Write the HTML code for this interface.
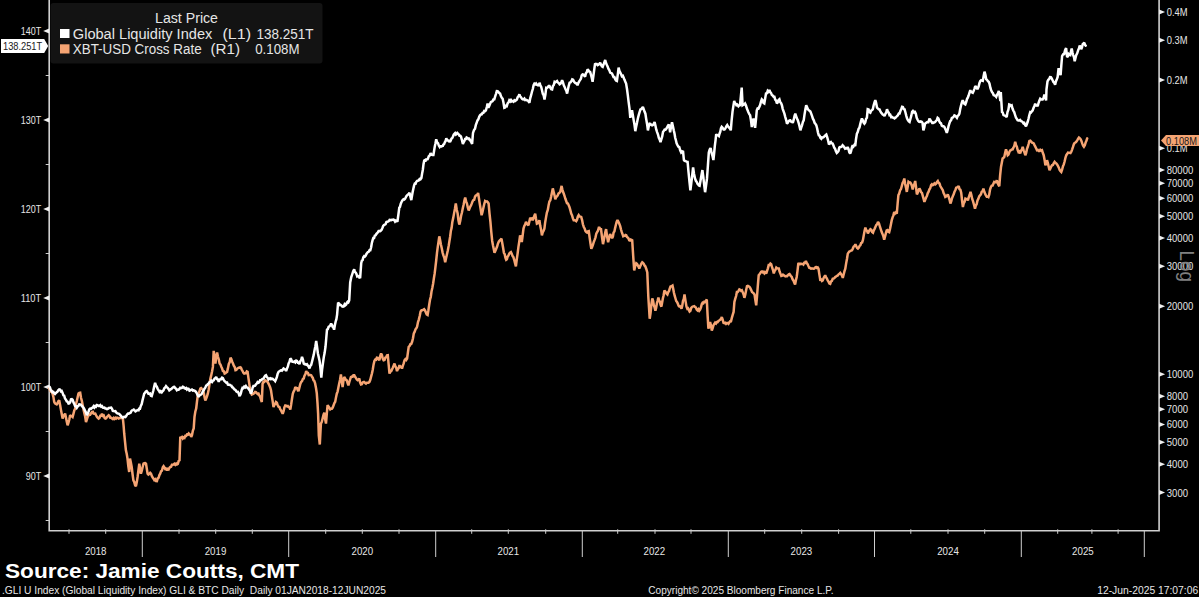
<!DOCTYPE html>
<html><head><meta charset="utf-8"><title>GLI vs BTC</title>
<style>html,body{margin:0;padding:0;background:#000;overflow:hidden}svg{display:block}text{font-family:"Liberation Sans", sans-serif}</style>
</head><body>
<svg width="1199" height="597" viewBox="0 0 1199 597">
<rect x="0" y="0" width="1199" height="597" fill="#000"/>
<rect x="50.5" y="3" width="272" height="60.5" rx="3" fill="#131313"/>
<path d="M49.2,0 L49.2,530.8 L1159.1,530.8 L1159.1,0" fill="none" stroke="#d0d0d0" stroke-width="1.6"/>
<path d="M49.2,28.5 L43.2,31.0 L49.2,33.5Z" fill="#f0f0f0"/>
<text x="20.7" y="35.0" font-size="11" fill="#e6e6e6" textLength="20.5" lengthAdjust="spacingAndGlyphs">140T</text>
<path d="M49.2,117.5 L43.2,120.0 L49.2,122.5Z" fill="#f0f0f0"/>
<text x="20.7" y="124.0" font-size="11" fill="#e6e6e6" textLength="20.5" lengthAdjust="spacingAndGlyphs">130T</text>
<path d="M49.2,206.5 L43.2,209.0 L49.2,211.5Z" fill="#f0f0f0"/>
<text x="20.7" y="213.0" font-size="11" fill="#e6e6e6" textLength="20.5" lengthAdjust="spacingAndGlyphs">120T</text>
<path d="M49.2,295.5 L43.2,298.0 L49.2,300.5Z" fill="#f0f0f0"/>
<text x="20.7" y="302.0" font-size="11" fill="#e6e6e6" textLength="20.5" lengthAdjust="spacingAndGlyphs">110T</text>
<path d="M49.2,384.5 L43.2,387.0 L49.2,389.5Z" fill="#f0f0f0"/>
<text x="20.7" y="391.0" font-size="11" fill="#e6e6e6" textLength="20.5" lengthAdjust="spacingAndGlyphs">100T</text>
<path d="M49.2,473.5 L43.2,476.0 L49.2,478.5Z" fill="#f0f0f0"/>
<text x="25.7" y="480.0" font-size="11" fill="#e6e6e6" textLength="15.5" lengthAdjust="spacingAndGlyphs">90T</text>
<line x1="45.7" y1="75.5" x2="49.2" y2="75.5" stroke="#d0d0d0" stroke-width="1"/>
<line x1="45.7" y1="164.5" x2="49.2" y2="164.5" stroke="#d0d0d0" stroke-width="1"/>
<line x1="45.7" y1="253.5" x2="49.2" y2="253.5" stroke="#d0d0d0" stroke-width="1"/>
<line x1="45.7" y1="342.5" x2="49.2" y2="342.5" stroke="#d0d0d0" stroke-width="1"/>
<line x1="45.7" y1="431.5" x2="49.2" y2="431.5" stroke="#d0d0d0" stroke-width="1"/>
<line x1="45.7" y1="520.5" x2="49.2" y2="520.5" stroke="#d0d0d0" stroke-width="1"/>
<path d="M1159.1,9.5 L1165.1,12.0 L1159.1,14.5Z" fill="#f0f0f0"/>
<text x="1166.8" y="16.0" font-size="11" fill="#e6e6e6" textLength="20.8" lengthAdjust="spacingAndGlyphs">0.4M</text>
<path d="M1159.1,37.75037951476488 L1165.1,40.25037951476488 L1159.1,42.75037951476488Z" fill="#f0f0f0"/>
<text x="1166.8" y="44.3" font-size="11" fill="#e6e6e6" textLength="20.8" lengthAdjust="spacingAndGlyphs">0.3M</text>
<path d="M1159.1,77.56705313098662 L1165.1,80.06705313098662 L1159.1,82.56705313098662Z" fill="#f0f0f0"/>
<text x="1166.8" y="84.1" font-size="11" fill="#e6e6e6" textLength="20.8" lengthAdjust="spacingAndGlyphs">0.2M</text>
<path d="M1159.1,145.63410626197324 L1165.1,148.13410626197324 L1159.1,150.63410626197324Z" fill="#f0f0f0"/>
<text x="1166.8" y="152.1" font-size="11" fill="#e6e6e6" textLength="20.8" lengthAdjust="spacingAndGlyphs">0.1M</text>
<path d="M1159.1,167.54680300102865 L1165.1,170.04680300102865 L1159.1,172.54680300102865Z" fill="#f0f0f0"/>
<text x="1166.8" y="174.0" font-size="11" fill="#e6e6e6" textLength="26.4" lengthAdjust="spacingAndGlyphs">80000</text>
<path d="M1159.1,180.6595857567568 L1165.1,183.1595857567568 L1159.1,185.6595857567568Z" fill="#f0f0f0"/>
<text x="1166.8" y="187.2" font-size="11" fill="#e6e6e6" textLength="26.4" lengthAdjust="spacingAndGlyphs">70000</text>
<path d="M1159.1,195.79718251579354 L1165.1,198.29718251579354 L1159.1,200.79718251579354Z" fill="#f0f0f0"/>
<text x="1166.8" y="202.3" font-size="11" fill="#e6e6e6" textLength="26.4" lengthAdjust="spacingAndGlyphs">60000</text>
<path d="M1159.1,213.70115939295988 L1165.1,216.20115939295988 L1159.1,218.70115939295988Z" fill="#f0f0f0"/>
<text x="1166.8" y="220.2" font-size="11" fill="#e6e6e6" textLength="26.4" lengthAdjust="spacingAndGlyphs">50000</text>
<path d="M1159.1,235.61385613201531 L1165.1,238.11385613201531 L1159.1,240.61385613201531Z" fill="#f0f0f0"/>
<text x="1166.8" y="242.1" font-size="11" fill="#e6e6e6" textLength="26.4" lengthAdjust="spacingAndGlyphs">40000</text>
<path d="M1159.1,263.86423564678023 L1165.1,266.36423564678023 L1159.1,268.86423564678023Z" fill="#f0f0f0"/>
<text x="1166.8" y="270.4" font-size="11" fill="#e6e6e6" textLength="26.4" lengthAdjust="spacingAndGlyphs">30000</text>
<path d="M1159.1,303.6809092630019 L1165.1,306.1809092630019 L1159.1,308.6809092630019Z" fill="#f0f0f0"/>
<text x="1166.8" y="310.2" font-size="11" fill="#e6e6e6" textLength="26.4" lengthAdjust="spacingAndGlyphs">20000</text>
<path d="M1159.1,371.74796239398853 L1165.1,374.24796239398853 L1159.1,376.74796239398853Z" fill="#f0f0f0"/>
<text x="1166.8" y="378.2" font-size="11" fill="#e6e6e6" textLength="26.4" lengthAdjust="spacingAndGlyphs">10000</text>
<path d="M1159.1,393.66065913304396 L1165.1,396.16065913304396 L1159.1,398.66065913304396Z" fill="#f0f0f0"/>
<text x="1166.8" y="400.2" font-size="11" fill="#e6e6e6" textLength="21.2" lengthAdjust="spacingAndGlyphs">8000</text>
<path d="M1159.1,406.77344188877214 L1165.1,409.27344188877214 L1159.1,411.77344188877214Z" fill="#f0f0f0"/>
<text x="1166.8" y="413.3" font-size="11" fill="#e6e6e6" textLength="21.2" lengthAdjust="spacingAndGlyphs">7000</text>
<path d="M1159.1,421.9110386478089 L1165.1,424.4110386478089 L1159.1,426.9110386478089Z" fill="#f0f0f0"/>
<text x="1166.8" y="428.4" font-size="11" fill="#e6e6e6" textLength="21.2" lengthAdjust="spacingAndGlyphs">6000</text>
<path d="M1159.1,439.81501552497514 L1165.1,442.31501552497514 L1159.1,444.81501552497514Z" fill="#f0f0f0"/>
<text x="1166.8" y="446.3" font-size="11" fill="#e6e6e6" textLength="21.2" lengthAdjust="spacingAndGlyphs">5000</text>
<path d="M1159.1,461.72771226403063 L1165.1,464.22771226403063 L1159.1,466.72771226403063Z" fill="#f0f0f0"/>
<text x="1166.8" y="468.2" font-size="11" fill="#e6e6e6" textLength="21.2" lengthAdjust="spacingAndGlyphs">4000</text>
<path d="M1159.1,489.9780917787955 L1165.1,492.4780917787955 L1159.1,494.9780917787955Z" fill="#f0f0f0"/>
<text x="1166.8" y="496.5" font-size="11" fill="#e6e6e6" textLength="21.2" lengthAdjust="spacingAndGlyphs">3000</text>
<line x1="142.3" y1="530.8" x2="142.3" y2="557" stroke="#cfcfcf" stroke-width="1"/>
<line x1="288.7" y1="530.8" x2="288.7" y2="557" stroke="#cfcfcf" stroke-width="1"/>
<line x1="435.7" y1="530.8" x2="435.7" y2="557" stroke="#cfcfcf" stroke-width="1"/>
<line x1="582.3" y1="530.8" x2="582.3" y2="557" stroke="#cfcfcf" stroke-width="1"/>
<line x1="728.3" y1="530.8" x2="728.3" y2="557" stroke="#cfcfcf" stroke-width="1"/>
<line x1="874.5" y1="530.8" x2="874.5" y2="557" stroke="#cfcfcf" stroke-width="1"/>
<line x1="1021.3" y1="530.8" x2="1021.3" y2="557" stroke="#cfcfcf" stroke-width="1"/>
<line x1="1144.3" y1="530.8" x2="1144.3" y2="557" stroke="#cfcfcf" stroke-width="1"/>
<line x1="69" y1="529.3" x2="69" y2="533.8" stroke="#cfcfcf" stroke-width="1"/>
<line x1="105.7" y1="529.3" x2="105.7" y2="533.8" stroke="#cfcfcf" stroke-width="1"/>
<line x1="179" y1="529.3" x2="179" y2="533.8" stroke="#cfcfcf" stroke-width="1"/>
<line x1="215.7" y1="529.3" x2="215.7" y2="533.8" stroke="#cfcfcf" stroke-width="1"/>
<line x1="252.3" y1="529.3" x2="252.3" y2="533.8" stroke="#cfcfcf" stroke-width="1"/>
<line x1="325.7" y1="529.3" x2="325.7" y2="533.8" stroke="#cfcfcf" stroke-width="1"/>
<line x1="362.3" y1="529.3" x2="362.3" y2="533.8" stroke="#cfcfcf" stroke-width="1"/>
<line x1="399" y1="529.3" x2="399" y2="533.8" stroke="#cfcfcf" stroke-width="1"/>
<line x1="471.7" y1="529.3" x2="471.7" y2="533.8" stroke="#cfcfcf" stroke-width="1"/>
<line x1="508.3" y1="529.3" x2="508.3" y2="533.8" stroke="#cfcfcf" stroke-width="1"/>
<line x1="545.7" y1="529.3" x2="545.7" y2="533.8" stroke="#cfcfcf" stroke-width="1"/>
<line x1="617.7" y1="529.3" x2="617.7" y2="533.8" stroke="#cfcfcf" stroke-width="1"/>
<line x1="655" y1="529.3" x2="655" y2="533.8" stroke="#cfcfcf" stroke-width="1"/>
<line x1="691" y1="529.3" x2="691" y2="533.8" stroke="#cfcfcf" stroke-width="1"/>
<line x1="764.7" y1="529.3" x2="764.7" y2="533.8" stroke="#cfcfcf" stroke-width="1"/>
<line x1="801.7" y1="529.3" x2="801.7" y2="533.8" stroke="#cfcfcf" stroke-width="1"/>
<line x1="838.6" y1="529.3" x2="838.6" y2="533.8" stroke="#cfcfcf" stroke-width="1"/>
<line x1="910.8" y1="529.3" x2="910.8" y2="533.8" stroke="#cfcfcf" stroke-width="1"/>
<line x1="948" y1="529.3" x2="948" y2="533.8" stroke="#cfcfcf" stroke-width="1"/>
<line x1="984.7" y1="529.3" x2="984.7" y2="533.8" stroke="#cfcfcf" stroke-width="1"/>
<line x1="1057.7" y1="529.3" x2="1057.7" y2="533.8" stroke="#cfcfcf" stroke-width="1"/>
<line x1="1091.9" y1="529.3" x2="1091.9" y2="533.8" stroke="#cfcfcf" stroke-width="1"/>
<line x1="1118.1" y1="529.3" x2="1118.1" y2="533.8" stroke="#cfcfcf" stroke-width="1"/>
<text x="84.9" y="555" font-size="11.5" fill="#e6e6e6" textLength="21.6" lengthAdjust="spacingAndGlyphs">2018</text>
<text x="204.7" y="555" font-size="11.5" fill="#e6e6e6" textLength="21.6" lengthAdjust="spacingAndGlyphs">2019</text>
<text x="351.5" y="555" font-size="11.5" fill="#e6e6e6" textLength="21.6" lengthAdjust="spacingAndGlyphs">2020</text>
<text x="497.5" y="555" font-size="11.5" fill="#e6e6e6" textLength="21.6" lengthAdjust="spacingAndGlyphs">2021</text>
<text x="643.5" y="555" font-size="11.5" fill="#e6e6e6" textLength="21.6" lengthAdjust="spacingAndGlyphs">2022</text>
<text x="790.6" y="555" font-size="11.5" fill="#e6e6e6" textLength="21.6" lengthAdjust="spacingAndGlyphs">2023</text>
<text x="937.2" y="555" font-size="11.5" fill="#e6e6e6" textLength="21.6" lengthAdjust="spacingAndGlyphs">2024</text>
<text x="1072.1" y="555" font-size="11.5" fill="#e6e6e6" textLength="21.6" lengthAdjust="spacingAndGlyphs">2025</text>
<text x="0" y="0" font-size="21" fill="#808080" textLength="31.5" lengthAdjust="spacingAndGlyphs" transform="translate(1179.5,250.6) rotate(90)">Log</text>
<path d="M49.0,387.6 L49.9,390.0 L50.8,391.4 L51.6,391.1 L52.5,393.5 L53.4,396.9 L54.2,401.9 L55.0,403.4 L55.9,404.0 L56.7,404.4 L57.5,403.3 L58.4,401.2 L59.2,400.2 L60.1,405.0 L60.9,409.6 L61.8,414.2 L62.6,418.6 L63.4,416.3 L64.3,415.1 L65.1,413.6 L65.9,417.3 L66.8,421.8 L67.6,425.3 L68.4,423.0 L69.3,419.5 L70.1,415.3 L70.9,416.0 L71.8,416.3 L72.6,417.0 L73.5,413.7 L74.3,410.5 L75.2,408.6 L76.0,403.9 L76.8,401.0 L77.7,396.9 L78.5,393.5 L79.3,392.9 L80.2,392.7 L81.0,397.7 L81.9,401.1 L82.7,405.2 L83.5,409.5 L84.3,413.1 L85.2,416.8 L86.0,422.0 L86.9,419.4 L87.7,416.8 L88.6,415.3 L89.4,414.5 L90.2,414.6 L91.1,413.2 L91.9,412.0 L92.8,411.8 L93.6,413.6 L94.5,413.8 L95.3,413.6 L96.1,415.3 L96.9,416.9 L97.8,417.9 L98.6,418.6 L99.4,417.9 L100.3,415.8 L101.2,415.8 L102.0,413.6 L102.8,415.8 L103.7,415.4 L104.5,417.9 L105.3,418.6 L106.2,418.2 L107.0,416.9 L107.8,416.2 L108.7,415.3 L109.5,416.1 L110.3,417.8 L111.2,417.8 L112.0,418.6 L112.8,419.1 L113.7,417.9 L114.6,418.8 L115.4,417.8 L116.2,418.6 L117.1,417.7 L117.9,417.9 L118.7,418.6 L119.6,418.2 L120.4,417.8 L121.2,418.0 L122.1,417.8 L122.9,418.6 L123.6,425.7 L124.2,433.5 L125.1,442.3 L125.9,450.3 L126.7,453.8 L127.5,458.6 L128.3,466.1 L129.2,472.0 L130.0,458.6 L130.8,462.3 L131.7,467.0 L132.6,474.5 L133.4,480.4 L134.2,482.0 L135.1,485.2 L135.9,486.3 L136.8,482.1 L137.6,477.0 L138.4,470.4 L139.3,463.7 L140.1,468.7 L140.9,473.7 L141.8,470.7 L142.6,467.2 L143.5,463.7 L144.3,463.3 L145.2,463.1 L146.0,463.7 L146.8,468.7 L147.6,473.7 L148.4,474.6 L149.3,473.9 L150.2,472.9 L151.0,473.7 L151.8,476.0 L152.7,477.5 L153.5,478.7 L154.3,480.1 L155.2,479.3 L156.1,481.1 L156.9,481.2 L157.7,478.4 L158.6,477.8 L159.4,475.1 L160.2,473.7 L161.0,471.3 L161.9,470.7 L162.8,467.3 L163.6,466.2 L164.4,467.3 L165.2,469.0 L166.1,468.8 L166.9,470.4 L167.8,469.0 L168.6,469.5 L169.5,467.7 L170.3,467.0 L171.1,466.8 L171.9,464.8 L172.8,464.8 L173.6,464.5 L174.4,463.8 L175.3,464.8 L176.2,463.7 L177.0,464.5 L177.8,464.0 L178.7,460.8 L179.5,460.3 L180.3,436.9 L181.1,437.9 L182.0,437.0 L182.8,438.5 L183.7,437.4 L184.5,437.9 L185.3,435.9 L186.2,436.0 L187.0,434.5 L187.9,434.7 L188.7,433.5 L189.5,434.4 L190.4,434.9 L191.2,436.9 L192.0,435.1 L192.9,430.6 L193.7,428.5 L194.5,416.8 L195.3,411.7 L196.2,408.4 L197.0,401.5 L197.8,395.3 L198.6,393.3 L199.5,391.3 L200.3,388.6 L201.1,388.1 L202.0,388.9 L202.8,389.5 L203.6,392.2 L204.5,396.7 L205.3,400.4 L206.1,398.7 L207.0,396.4 L207.8,393.7 L208.7,389.5 L209.5,384.1 L210.4,378.6 L211.2,375.4 L212.1,371.2 L212.9,366.9 L213.7,350.9 L214.6,357.1 L215.4,363.5 L216.2,357.5 L217.1,352.6 L217.9,356.6 L218.8,359.5 L219.6,363.5 L220.4,364.4 L221.3,366.7 L222.1,368.5 L222.9,370.9 L223.8,371.2 L224.6,373.6 L225.4,373.2 L226.3,372.3 L227.1,371.9 L227.9,368.4 L228.8,364.0 L229.7,362.1 L230.5,357.6 L231.3,359.1 L232.2,361.7 L233.0,363.5 L233.8,365.6 L234.7,367.0 L235.5,370.2 L236.3,370.0 L237.0,368.8 L237.8,368.2 L238.6,367.8 L239.4,367.7 L240.1,367.2 L240.9,367.7 L241.7,369.6 L242.6,371.0 L243.4,372.7 L244.2,373.5 L245.1,373.2 L245.9,373.2 L246.8,371.5 L247.6,371.9 L248.4,377.9 L249.3,383.7 L250.1,390.3 L250.9,392.6 L251.8,394.5 L252.6,394.1 L253.4,393.9 L254.3,393.0 L255.1,392.0 L255.9,392.2 L256.8,393.2 L257.6,394.0 L258.5,393.6 L259.3,395.3 L260.1,396.6 L261.0,399.6 L261.8,402.0 L262.6,383.6 L263.5,381.7 L264.3,381.8 L265.2,380.3 L266.0,380.6 L266.9,381.1 L267.7,382.1 L268.5,383.6 L269.3,385.3 L270.2,387.5 L271.0,390.3 L271.8,395.9 L272.7,401.4 L273.5,407.0 L274.3,405.0 L275.2,404.0 L276.0,402.0 L276.9,402.7 L277.7,405.3 L278.5,406.7 L279.4,407.0 L280.2,409.2 L281.0,410.3 L281.9,412.1 L282.7,413.8 L283.6,411.2 L284.4,407.3 L285.3,405.4 L286.1,405.6 L287.0,406.3 L287.8,406.0 L288.6,407.0 L289.5,407.5 L290.3,409.6 L291.1,404.9 L292.0,398.7 L292.8,393.7 L293.6,391.5 L294.5,390.1 L295.3,387.0 L296.1,388.0 L297.0,388.2 L297.9,390.4 L298.7,390.3 L299.5,387.2 L300.4,383.7 L301.2,381.9 L302.0,381.2 L302.9,378.9 L303.7,378.6 L304.5,375.7 L305.4,374.2 L306.2,371.0 L307.0,372.7 L307.9,372.8 L308.7,375.2 L309.5,375.1 L310.4,375.0 L311.2,375.2 L312.0,376.8 L312.8,377.9 L313.5,380.3 L314.3,380.9 L315.1,383.4 L316.0,388.0 L316.8,393.4 L317.5,403.2 L318.1,413.5 L318.8,435.3 L319.8,444.5 L320.9,423.6 L321.8,421.9 L322.6,418.5 L323.5,414.8 L324.3,412.7 L325.1,418.7 L326.0,423.6 L326.8,413.7 L327.6,405.1 L328.5,406.6 L329.3,407.7 L330.2,409.3 L331.0,408.7 L331.9,408.7 L332.7,407.6 L333.5,405.5 L334.4,403.0 L335.2,401.8 L336.0,397.4 L336.8,393.7 L337.6,391.6 L338.4,387.5 L339.2,383.6 L340.0,379.9 L340.9,374.4 L341.8,381.1 L342.6,387.0 L343.4,381.0 L344.2,377.0 L345.1,378.4 L345.9,379.8 L346.8,380.3 L347.6,383.2 L348.4,385.3 L349.2,382.5 L350.1,379.5 L350.9,377.0 L351.8,376.5 L352.6,376.7 L353.4,375.3 L354.3,375.3 L355.1,376.8 L356.0,378.1 L356.8,379.5 L357.6,380.1 L358.5,379.5 L359.3,378.6 L360.1,382.4 L361.0,384.5 L361.8,384.3 L362.7,382.4 L363.5,382.0 L364.3,382.0 L365.2,383.0 L366.0,383.6 L366.9,382.7 L367.7,382.7 L368.5,382.8 L369.4,382.0 L370.2,380.0 L371.1,376.6 L371.9,373.6 L372.7,370.0 L373.6,364.4 L374.4,361.0 L375.2,359.6 L376.1,359.8 L376.9,357.7 L377.7,357.8 L378.6,359.2 L379.4,360.2 L380.2,356.0 L381.1,353.5 L381.9,354.9 L382.8,358.8 L383.6,360.2 L384.5,359.9 L385.3,357.7 L386.1,357.2 L387.0,355.3 L387.8,355.2 L388.6,364.0 L389.5,373.6 L390.3,371.7 L391.2,371.1 L392.0,369.4 L392.8,367.8 L393.7,365.4 L394.5,363.6 L395.3,366.1 L396.2,367.8 L397.0,371.1 L397.8,369.2 L398.7,368.1 L399.5,365.2 L400.3,366.8 L401.2,366.7 L402.0,368.6 L402.8,365.8 L403.7,363.4 L404.5,360.2 L405.4,359.1 L406.2,359.9 L407.1,358.5 L407.9,352.6 L408.7,346.8 L409.6,346.0 L410.4,344.1 L411.2,344.0 L412.1,341.8 L413.0,338.2 L413.8,333.4 L414.6,331.9 L415.5,329.3 L416.3,328.3 L417.1,326.7 L418.0,322.0 L418.9,319.3 L419.7,316.1 L420.6,311.5 L421.5,310.3 L422.4,310.3 L423.2,309.7 L424.1,309.1 L425.0,310.4 L425.9,312.5 L426.7,314.4 L427.6,315.0 L428.4,310.3 L429.2,304.7 L430.0,299.7 L430.8,296.7 L431.5,291.6 L432.3,288.0 L433.1,283.8 L433.8,278.9 L434.6,273.9 L435.4,267.4 L436.2,260.5 L437.0,252.8 L437.8,246.7 L438.5,242.0 L439.3,236.3 L440.1,240.0 L440.9,244.5 L441.7,248.1 L442.6,252.6 L443.4,255.4 L444.3,257.7 L445.2,262.2 L446.1,258.0 L446.9,254.4 L447.8,250.6 L448.7,245.7 L449.4,241.3 L450.1,237.0 L450.9,230.7 L451.6,227.9 L452.3,222.3 L453.2,218.1 L454.1,213.1 L454.9,209.0 L455.8,203.5 L456.7,209.5 L457.6,213.3 L458.4,220.0 L459.3,224.6 L460.2,221.0 L461.1,215.8 L461.9,212.8 L462.8,208.2 L463.6,204.8 L464.4,200.5 L465.2,197.6 L466.1,201.4 L466.9,203.3 L467.8,207.5 L468.7,210.5 L469.5,208.6 L470.3,206.5 L471.0,205.4 L471.8,203.4 L472.6,201.2 L473.4,200.0 L474.2,199.8 L475.0,196.8 L475.8,195.5 L476.5,195.2 L477.3,194.8 L478.1,192.9 L479.0,198.8 L479.9,204.6 L480.7,209.6 L481.6,215.2 L482.5,212.0 L483.4,207.8 L484.2,204.2 L485.1,201.1 L486.0,201.7 L486.9,201.4 L487.7,202.1 L488.6,203.5 L489.5,213.4 L490.4,221.6 L491.3,232.1 L492.2,241.0 L493.0,245.5 L493.7,248.7 L494.5,252.8 L495.4,250.8 L496.2,248.7 L497.1,246.5 L498.0,243.4 L498.9,241.5 L499.8,240.4 L500.6,239.6 L501.5,238.7 L502.3,243.3 L503.1,247.7 L503.9,252.8 L504.7,254.2 L505.4,257.6 L506.2,259.8 L506.9,259.3 L507.6,256.7 L508.4,255.7 L509.1,254.0 L509.8,252.8 L510.9,252.1 L511.7,253.7 L512.6,256.2 L513.4,257.1 L514.2,259.8 L515.1,263.5 L515.9,266.3 L516.7,259.9 L517.6,253.6 L518.4,247.1 L519.2,242.0 L520.1,235.3 L521.0,237.8 L521.8,242.0 L522.6,235.9 L523.5,228.6 L524.3,226.0 L525.2,224.4 L526.0,221.9 L526.8,223.6 L527.7,224.5 L528.5,225.3 L529.4,221.3 L530.2,217.7 L531.0,219.2 L531.9,218.6 L532.7,220.3 L533.5,218.3 L534.4,215.6 L535.2,213.6 L536.0,218.7 L536.9,223.6 L537.7,223.2 L538.6,222.0 L539.4,220.3 L540.2,225.6 L541.1,229.9 L541.9,235.3 L542.7,232.5 L543.6,230.7 L544.4,228.6 L545.2,222.2 L546.1,216.9 L546.9,212.6 L547.8,210.0 L548.6,205.2 L549.4,201.6 L550.3,200.2 L551.1,196.8 L552.0,192.4 L552.8,188.4 L553.6,191.8 L554.5,195.3 L555.3,199.3 L556.1,197.1 L557.0,196.4 L557.8,195.1 L558.6,193.3 L559.5,192.8 L560.3,191.8 L561.0,188.4 L561.6,185.9 L562.3,189.2 L563.0,191.8 L563.7,193.5 L564.5,195.9 L565.4,198.8 L566.2,201.0 L567.0,203.3 L567.9,203.5 L568.7,205.2 L569.5,207.2 L570.4,210.3 L571.2,213.6 L572.0,215.2 L572.9,218.4 L573.7,220.3 L574.5,220.3 L575.4,220.5 L576.2,221.1 L577.0,219.7 L577.9,216.6 L578.7,215.2 L579.5,216.4 L580.4,216.6 L581.2,216.9 L582.1,220.1 L582.9,224.3 L583.8,227.0 L584.6,228.4 L585.5,231.1 L586.3,232.0 L587.1,232.6 L588.0,231.4 L588.8,231.1 L589.6,237.3 L590.5,243.7 L591.3,248.7 L592.1,247.0 L593.0,244.7 L593.8,242.0 L594.6,239.9 L595.5,237.3 L596.3,233.6 L597.1,232.2 L598.0,230.7 L598.8,227.8 L599.5,227.8 L600.3,228.9 L601.0,229.1 L602.0,237.0 L603.0,244.2 L603.8,240.2 L604.5,236.4 L605.3,232.2 L606.1,229.1 L607.1,236.6 L608.1,242.2 L609.1,237.9 L610.1,234.1 L611.1,236.1 L612.1,238.2 L612.9,236.5 L613.6,232.5 L614.4,231.5 L615.1,228.1 L615.9,224.7 L616.7,221.8 L617.5,220.1 L618.4,221.8 L619.3,223.8 L620.2,226.1 L621.0,229.5 L621.7,231.9 L622.5,234.2 L623.2,236.2 L624.0,235.8 L624.7,235.8 L625.5,234.9 L626.2,235.2 L627.0,237.1 L627.7,237.5 L628.5,238.5 L629.2,240.2 L630.0,240.5 L630.7,239.5 L631.5,239.8 L632.2,240.2 L633.2,256.2 L634.2,270.4 L635.2,266.0 L636.2,263.3 L637.0,263.9 L637.8,265.3 L638.5,266.6 L639.3,268.4 L640.0,266.7 L640.8,264.9 L641.5,263.5 L642.3,262.3 L643.0,262.8 L643.8,263.8 L644.5,265.5 L645.3,266.3 L646.3,269.0 L647.3,272.4 L648.3,296.5 L649.0,307.3 L649.7,318.7 L650.6,312.5 L651.4,304.4 L652.3,298.5 L653.1,300.8 L653.8,305.3 L654.6,307.4 L655.4,310.6 L656.1,307.9 L656.9,303.3 L657.6,300.8 L658.4,297.5 L659.1,300.5 L659.9,301.7 L660.6,304.9 L661.4,306.6 L662.1,302.8 L662.9,298.3 L663.6,295.5 L664.4,290.5 L665.1,291.3 L665.9,292.4 L666.6,293.7 L667.4,294.5 L668.2,292.1 L669.0,291.2 L669.7,288.7 L670.5,286.5 L671.5,286.2 L672.5,285.5 L673.2,288.8 L674.0,293.0 L674.8,296.2 L675.5,298.5 L676.2,301.0 L677.0,302.0 L677.8,303.6 L678.5,305.6 L679.2,306.4 L680.0,306.2 L680.8,307.1 L681.5,308.6 L682.2,306.1 L683.0,300.8 L683.8,298.9 L684.5,294.5 L685.5,300.9 L686.5,306.6 L687.3,308.7 L688.0,308.3 L688.8,310.0 L689.6,311.6 L690.4,310.9 L691.1,308.1 L691.9,307.1 L692.6,306.6 L693.4,306.4 L694.2,306.2 L695.0,307.0 L695.8,307.4 L696.7,309.6 L697.5,310.4 L698.4,309.3 L699.2,310.7 L700.1,309.5 L700.9,307.6 L701.8,304.1 L702.6,302.8 L703.4,303.3 L704.3,301.7 L705.1,302.0 L706.0,300.7 L706.8,299.5 L707.6,315.4 L708.4,328.8 L709.2,325.6 L710.1,322.1 L711.0,325.6 L711.8,330.5 L712.6,328.3 L713.5,325.2 L714.3,323.8 L715.1,322.6 L716.0,323.5 L716.8,322.1 L717.6,322.2 L718.5,321.0 L719.3,320.4 L720.1,319.7 L721.0,319.0 L721.8,317.1 L722.6,319.3 L723.5,322.9 L724.3,323.2 L725.2,322.8 L726.0,323.8 L726.8,323.0 L727.7,323.0 L728.5,323.8 L729.3,322.4 L730.2,321.2 L731.0,321.2 L731.9,317.6 L732.7,314.8 L733.6,312.0 L734.4,302.0 L735.2,298.9 L736.1,296.0 L736.9,291.9 L737.7,291.9 L738.6,290.7 L739.4,289.4 L740.2,289.7 L741.1,290.8 L741.9,290.3 L742.7,292.1 L743.6,294.5 L744.4,297.8 L745.3,294.5 L746.1,290.3 L747.0,286.1 L747.8,285.8 L748.7,286.4 L749.5,286.9 L750.3,288.2 L751.2,290.1 L752.0,291.9 L752.8,292.6 L753.7,293.4 L754.5,294.4 L755.4,300.4 L756.2,305.3 L757.0,296.3 L757.8,286.1 L758.7,275.2 L759.5,274.2 L760.4,272.9 L761.2,271.8 L762.0,271.4 L762.9,272.3 L763.7,271.8 L764.5,273.3 L765.4,272.4 L766.2,273.5 L767.0,271.1 L767.9,268.3 L768.7,265.1 L769.5,265.1 L770.4,263.6 L771.2,264.3 L772.1,267.5 L772.9,269.8 L773.8,273.5 L774.6,270.9 L775.5,269.7 L776.3,267.6 L777.1,268.2 L778.0,268.5 L778.8,268.5 L779.6,271.5 L780.5,273.9 L781.3,276.0 L782.1,275.7 L783.0,274.6 L783.8,275.2 L784.6,276.0 L785.5,276.4 L786.3,276.0 L787.1,276.1 L788.0,275.1 L788.8,274.3 L789.5,274.0 L790.2,275.0 L790.9,276.2 L791.7,276.8 L792.6,279.3 L793.4,280.4 L794.2,282.6 L795.1,284.6 L795.9,280.2 L796.7,277.0 L797.5,270.8 L798.4,262.8 L799.2,264.1 L800.1,264.2 L800.9,263.7 L801.7,263.9 L802.6,263.8 L803.4,264.5 L804.2,262.8 L805.1,262.9 L805.9,261.1 L806.8,263.2 L807.6,264.1 L808.5,266.2 L809.3,267.8 L810.2,268.0 L811.0,268.7 L811.8,268.5 L812.7,268.5 L813.5,268.7 L814.3,268.6 L815.2,267.5 L816.0,267.0 L816.8,267.9 L817.7,267.4 L818.5,268.7 L819.4,274.6 L820.2,279.6 L821.0,279.4 L821.9,281.0 L822.7,280.4 L823.5,278.2 L824.4,276.7 L825.2,275.4 L826.0,277.1 L826.9,278.5 L827.7,280.4 L828.5,281.6 L829.4,283.5 L830.2,283.8 L831.0,281.5 L831.9,280.9 L832.7,278.7 L833.6,278.5 L834.4,278.1 L835.3,277.0 L836.1,276.4 L837.0,275.8 L837.8,275.4 L838.6,274.3 L839.5,273.7 L840.3,272.9 L841.1,274.1 L842.0,275.6 L842.8,277.9 L843.6,274.8 L844.5,271.2 L845.3,268.7 L846.1,263.6 L847.0,258.8 L847.8,253.6 L848.6,252.4 L849.5,251.3 L850.3,251.1 L851.1,250.5 L852.0,250.2 L852.8,248.6 L853.7,246.6 L854.5,246.0 L855.4,244.4 L856.2,246.1 L857.1,248.0 L857.9,248.6 L858.7,247.8 L859.6,245.9 L860.4,245.2 L861.2,242.9 L862.1,242.5 L862.9,240.2 L863.7,235.6 L864.6,230.8 L865.4,227.6 L866.2,230.3 L867.1,230.9 L867.9,233.5 L868.7,231.7 L869.6,230.3 L870.4,229.3 L871.3,229.9 L872.1,232.0 L873.0,232.7 L873.8,230.4 L874.7,228.6 L875.5,226.8 L876.3,225.0 L877.2,224.1 L878.0,221.8 L879.0,223.4 L880.0,227.0 L880.9,229.7 L881.7,232.1 L882.5,233.9 L883.4,236.4 L884.2,239.6 L885.0,236.7 L885.9,233.2 L886.7,230.4 L887.5,230.1 L888.4,231.7 L889.2,232.1 L890.0,229.0 L890.9,224.6 L891.7,220.4 L892.5,217.6 L893.4,215.4 L894.2,212.0 L895.1,213.4 L895.9,212.4 L896.8,213.7 L897.6,204.0 L898.4,195.2 L899.2,193.6 L900.1,190.2 L901.0,189.0 L901.8,186.0 L902.6,182.9 L903.5,181.4 L904.3,178.5 L905.1,183.7 L906.0,187.6 L906.8,191.9 L907.6,187.3 L908.5,181.8 L909.3,182.4 L910.2,182.4 L911.0,183.5 L911.9,185.9 L912.7,189.4 L913.5,185.7 L914.4,184.1 L915.2,181.0 L916.0,187.0 L916.9,194.4 L917.7,192.7 L918.6,190.2 L919.4,188.5 L920.2,189.8 L921.1,192.2 L921.9,192.7 L922.7,195.6 L923.6,198.8 L924.4,201.9 L925.2,199.7 L926.1,197.5 L926.9,196.1 L927.7,193.3 L928.6,191.7 L929.4,189.4 L930.2,188.3 L931.1,185.2 L931.9,184.3 L932.8,185.2 L933.6,184.6 L934.4,183.4 L935.3,184.3 L936.1,183.6 L937.0,181.9 L937.8,181.0 L938.6,182.7 L939.5,183.5 L940.3,186.0 L941.1,187.4 L942.0,188.8 L942.8,190.2 L943.6,193.0 L944.5,194.8 L945.3,196.9 L946.1,196.5 L947.0,195.7 L947.8,194.4 L948.7,196.9 L949.5,199.6 L950.4,203.6 L951.2,201.3 L952.0,198.3 L952.9,196.0 L953.7,194.4 L954.5,191.8 L955.4,190.0 L956.2,187.7 L957.0,187.4 L957.9,186.9 L958.7,186.0 L959.5,189.1 L960.4,189.7 L961.2,192.7 L962.0,200.0 L962.9,207.0 L963.7,203.4 L964.6,201.7 L965.4,198.6 L966.2,199.0 L967.1,199.0 L967.9,200.3 L968.8,197.1 L969.6,195.0 L970.5,191.9 L971.3,194.9 L972.2,198.9 L973.0,201.1 L974.0,204.7 L975.0,208.8 L975.8,205.7 L976.7,204.0 L977.5,200.4 L978.3,198.9 L979.2,196.3 L980.0,195.4 L980.9,194.3 L981.7,191.8 L982.5,191.3 L983.4,188.7 L984.2,191.2 L985.1,193.8 L985.9,195.4 L986.7,196.7 L987.6,196.5 L988.4,197.0 L989.2,194.6 L990.1,189.4 L990.9,187.0 L991.7,185.6 L992.6,185.5 L993.4,183.7 L994.2,181.9 L995.1,182.3 L995.9,182.1 L996.8,180.3 L997.6,182.7 L998.5,185.0 L999.3,186.2 L1000.1,175.7 L1001.0,166.9 L1001.8,162.8 L1002.6,158.5 L1003.5,157.9 L1004.3,156.9 L1005.1,153.0 L1006.0,149.3 L1006.9,152.1 L1007.7,155.2 L1008.5,154.5 L1009.4,152.0 L1010.2,150.5 L1011.0,150.2 L1011.8,149.5 L1012.7,149.4 L1013.5,147.6 L1014.4,145.4 L1015.2,141.8 L1016.0,144.9 L1016.9,147.0 L1017.7,150.2 L1018.5,152.1 L1019.4,151.5 L1020.2,153.5 L1021.0,150.8 L1021.9,149.6 L1022.7,146.8 L1023.6,150.4 L1024.4,152.2 L1025.3,155.2 L1026.1,153.2 L1027.0,148.8 L1027.8,146.8 L1028.6,144.0 L1029.4,140.9 L1030.3,140.6 L1031.1,141.5 L1032.0,142.6 L1032.8,142.8 L1033.7,143.3 L1034.5,145.1 L1035.3,146.6 L1036.2,148.5 L1037.0,150.2 L1037.8,150.0 L1038.7,151.0 L1039.5,151.0 L1040.3,149.8 L1041.2,150.5 L1042.0,150.2 L1042.8,152.8 L1043.7,155.2 L1044.6,160.0 L1045.4,165.2 L1046.2,163.5 L1047.0,160.2 L1047.8,162.8 L1048.7,166.8 L1049.5,170.3 L1050.4,168.5 L1051.2,166.6 L1052.1,165.2 L1052.9,165.0 L1053.8,163.1 L1054.6,161.9 L1055.4,162.8 L1056.3,163.4 L1057.1,164.4 L1057.9,165.9 L1058.8,167.7 L1059.6,170.0 L1060.5,171.1 L1061.3,171.9 L1062.1,169.7 L1063.0,166.2 L1063.8,164.4 L1064.6,161.5 L1065.5,157.5 L1066.3,155.2 L1067.1,154.1 L1068.0,152.6 L1068.8,152.7 L1069.6,152.8 L1070.5,153.1 L1071.3,151.8 L1072.1,149.6 L1073.0,146.9 L1073.8,144.3 L1074.6,143.0 L1075.5,142.5 L1076.3,141.8 L1077.2,140.3 L1078.0,138.8 L1078.9,137.6 L1079.7,138.2 L1080.6,139.2 L1081.4,140.9 L1082.2,143.4 L1083.1,145.7 L1083.9,146.8 L1084.8,145.3 L1085.6,142.6 L1086.4,140.7 L1087.2,138.4" fill="none" stroke="#f5a473" stroke-width="2.5" stroke-linejoin="miter" stroke-miterlimit="2" stroke-linecap="round"/>
<path d="M49.0,386.5 L49.9,387.3 L50.8,390.2 L51.7,391.0 L52.5,392.3 L53.4,392.0 L54.2,393.2 L55.0,394.0 L55.9,392.9 L56.7,392.3 L57.5,391.6 L58.4,390.0 L59.2,389.4 L60.0,389.6 L60.9,391.4 L61.7,391.0 L62.5,392.7 L63.4,395.3 L64.2,395.6 L65.0,398.5 L65.9,399.6 L66.8,401.4 L67.6,401.7 L68.5,403.5 L69.3,403.3 L70.2,402.1 L71.0,399.2 L71.8,399.0 L72.6,399.7 L73.5,402.4 L74.3,404.0 L75.1,406.1 L76.0,406.2 L76.8,407.7 L77.7,406.3 L78.5,405.9 L79.3,404.3 L80.2,404.4 L81.0,404.7 L81.8,405.9 L82.7,406.9 L83.5,407.7 L84.3,409.1 L85.2,411.0 L86.1,412.8 L86.9,415.3 L87.7,413.5 L88.6,411.5 L89.4,409.3 L90.2,408.6 L91.0,408.8 L91.9,407.8 L92.8,407.6 L93.6,406.2 L94.5,407.4 L95.3,406.0 L96.1,406.6 L97.0,405.0 L97.8,405.3 L98.6,405.9 L99.5,405.8 L100.3,405.2 L101.1,406.6 L102.0,406.2 L102.8,407.6 L103.6,407.8 L104.5,407.6 L105.3,408.6 L106.1,408.6 L107.0,409.1 L107.8,408.8 L108.6,408.0 L109.5,408.0 L110.3,407.7 L111.2,407.6 L112.0,408.8 L112.8,410.8 L113.7,411.0 L114.5,411.3 L115.4,411.2 L116.2,412.4 L117.0,413.1 L117.9,413.5 L118.7,413.6 L119.5,414.2 L120.3,415.2 L121.2,416.2 L122.0,417.0 L122.8,417.6 L123.7,417.0 L124.6,416.8 L125.4,417.0 L126.2,416.1 L127.1,414.4 L128.0,413.5 L128.8,413.6 L129.6,413.2 L130.4,412.9 L131.3,411.3 L132.1,410.3 L132.9,410.1 L133.8,409.6 L134.6,410.3 L135.4,411.3 L136.3,410.8 L137.1,410.3 L137.8,410.0 L138.6,410.2 L139.3,408.6 L140.0,408.7 L140.8,406.0 L141.7,404.1 L142.5,400.4 L143.3,397.2 L144.2,393.7 L145.0,392.8 L145.9,391.5 L146.7,391.1 L147.5,392.1 L148.4,393.7 L149.2,393.7 L150.0,393.5 L150.9,395.9 L151.7,396.2 L152.5,393.5 L153.4,390.3 L154.2,386.6 L155.1,382.8 L155.9,385.4 L156.8,386.7 L157.6,388.6 L158.4,390.1 L159.3,391.3 L160.1,392.8 L160.9,391.3 L161.8,392.3 L162.7,391.1 L163.5,390.3 L164.3,388.3 L165.2,387.5 L166.0,386.1 L166.8,387.1 L167.7,387.9 L168.5,388.9 L169.3,390.3 L170.1,389.7 L171.0,389.2 L171.8,388.5 L172.7,387.6 L173.5,387.0 L174.3,386.9 L175.2,388.1 L176.1,388.8 L176.9,390.3 L177.7,389.8 L178.6,389.8 L179.4,389.0 L180.2,387.8 L181.0,388.2 L181.9,388.0 L182.8,386.7 L183.6,387.0 L184.4,388.3 L185.2,388.6 L186.1,388.0 L186.9,389.5 L187.8,388.7 L188.6,388.9 L189.5,390.6 L190.3,390.3 L191.1,389.8 L191.9,389.5 L192.8,390.5 L193.6,390.3 L194.4,390.8 L195.3,391.1 L196.2,392.2 L197.0,393.7 L197.8,395.4 L198.6,397.0 L199.4,395.5 L200.3,394.9 L201.1,394.5 L202.0,393.5 L202.8,391.6 L203.7,390.3 L204.5,388.7 L205.3,387.7 L206.2,385.6 L207.0,385.3 L207.8,384.2 L208.7,383.4 L209.6,382.1 L210.4,381.9 L211.2,380.7 L212.1,381.9 L212.9,380.7 L213.7,380.3 L214.5,378.6 L215.4,378.2 L216.2,376.9 L217.0,379.2 L217.9,379.3 L218.7,381.9 L219.5,379.9 L220.4,379.1 L221.2,379.2 L222.1,377.7 L222.9,378.1 L223.8,380.2 L224.6,381.2 L225.4,381.9 L226.2,382.6 L227.1,382.5 L227.9,384.6 L228.8,384.8 L229.7,384.8 L230.5,385.3 L231.3,385.6 L232.2,387.2 L233.0,387.6 L233.8,388.6 L234.7,389.6 L235.5,389.9 L236.3,391.4 L237.2,392.0 L237.9,391.9 L238.6,393.2 L239.3,395.4 L240.0,395.3 L240.8,393.6 L241.7,389.9 L242.5,387.8 L243.3,388.1 L244.2,386.6 L245.1,387.4 L245.9,386.1 L246.7,387.4 L247.6,387.6 L248.4,388.6 L249.2,389.8 L250.1,391.0 L250.9,393.7 L251.7,391.9 L252.6,387.7 L253.4,386.1 L254.2,386.1 L255.1,385.8 L256.0,384.4 L256.8,383.6 L257.6,382.1 L258.5,382.7 L259.3,382.1 L260.1,380.3 L261.0,380.3 L261.8,379.5 L262.6,378.8 L263.5,378.6 L264.3,377.2 L265.2,375.7 L266.0,375.2 L266.8,376.9 L267.7,377.9 L268.5,379.4 L269.4,378.6 L270.2,378.2 L271.0,379.1 L271.9,378.6 L272.7,378.8 L273.5,379.8 L274.4,380.1 L275.2,381.1 L276.0,379.3 L276.9,376.9 L277.7,373.6 L278.6,371.8 L279.4,371.3 L280.2,370.7 L281.1,370.2 L281.9,370.6 L282.8,369.6 L283.6,368.5 L284.4,369.0 L285.3,369.6 L286.1,371.0 L286.9,368.8 L287.8,366.7 L288.6,363.5 L289.5,361.9 L290.3,358.5 L291.1,359.3 L292.0,361.5 L292.8,361.8 L293.6,362.0 L294.5,361.4 L295.3,362.3 L296.2,360.6 L297.0,361.0 L297.8,362.6 L298.7,362.4 L299.5,364.3 L300.3,361.1 L301.2,360.1 L302.0,356.8 L302.9,359.6 L303.7,363.5 L304.5,364.2 L305.4,364.1 L306.2,364.8 L307.0,364.3 L307.8,365.4 L308.7,366.8 L309.5,368.5 L310.3,365.8 L311.2,364.8 L312.0,361.8 L312.9,358.1 L313.7,354.9 L314.6,350.1 L315.4,346.3 L316.2,340.9 L317.0,346.5 L317.9,353.5 L318.8,357.4 L319.6,361.0 L320.5,368.6 L321.3,377.7 L322.1,369.7 L322.9,363.5 L323.8,357.1 L324.6,353.1 L325.5,346.8 L326.2,338.8 L327.0,329.7 L327.8,329.1 L328.6,326.9 L329.5,326.3 L330.3,325.4 L331.1,323.6 L331.9,324.9 L332.6,326.8 L333.4,327.6 L334.1,329.7 L334.9,325.1 L335.6,321.7 L336.4,319.2 L337.1,314.6 L338.1,302.5 L338.9,303.4 L339.7,305.0 L340.5,304.8 L341.3,305.3 L342.1,306.5 L342.9,306.7 L343.7,306.4 L344.6,304.3 L345.4,305.2 L346.2,304.5 L346.9,302.7 L347.7,301.7 L348.4,302.3 L349.2,300.5 L350.2,282.4 L351.2,277.4 L352.2,274.3 L353.2,271.3 L354.2,269.3 L354.9,272.0 L355.7,272.6 L356.4,273.8 L357.2,276.3 L357.9,275.9 L358.7,276.3 L359.4,277.5 L360.2,277.3 L361.2,263.3 L361.9,260.5 L362.6,260.1 L363.3,257.2 L364.1,256.2 L364.8,256.6 L365.6,255.8 L366.3,254.2 L367.1,253.0 L367.9,252.1 L368.7,251.8 L369.5,250.2 L370.3,250.2 L371.1,247.5 L371.8,243.2 L372.6,240.1 L373.3,238.1 L374.1,238.1 L374.8,235.7 L375.6,235.3 L376.3,234.1 L377.1,233.2 L377.9,232.2 L378.6,231.0 L379.4,231.1 L380.1,231.2 L380.9,230.5 L381.6,229.7 L382.4,228.0 L383.2,226.0 L384.0,225.0 L384.8,224.6 L385.6,224.2 L386.4,222.0 L387.2,221.7 L388.0,221.6 L388.8,221.1 L389.6,219.9 L390.4,220.0 L391.2,220.2 L392.0,219.8 L392.8,219.8 L393.6,219.6 L394.3,220.1 L395.1,221.6 L395.9,220.7 L396.7,221.2 L397.5,221.0 L398.4,214.5 L399.3,207.5 L400.0,206.8 L400.7,204.0 L401.4,202.2 L402.1,201.0 L402.8,199.9 L403.6,199.2 L404.3,199.5 L405.1,198.8 L405.8,197.3 L406.5,196.0 L407.3,195.1 L408.0,194.6 L408.8,193.8 L409.5,192.7 L410.4,196.6 L411.3,200.1 L412.0,195.9 L412.7,191.8 L413.4,188.6 L414.1,185.4 L414.8,183.6 L415.6,183.7 L416.3,181.8 L417.1,180.9 L417.8,180.8 L418.7,180.4 L419.6,179.0 L420.5,179.3 L421.4,178.0 L422.1,173.6 L422.8,170.0 L423.5,164.2 L424.2,160.5 L424.9,160.1 L425.7,160.4 L426.4,158.6 L427.2,160.0 L427.9,158.7 L428.8,156.2 L429.7,155.5 L430.6,153.1 L431.5,154.7 L432.5,155.0 L433.4,155.0 L434.1,150.7 L434.8,146.4 L435.5,143.3 L436.2,139.3 L437.1,142.3 L438.0,143.2 L438.9,145.8 L439.6,146.8 L440.4,145.4 L441.1,147.2 L441.9,145.6 L442.6,146.7 L443.3,144.7 L444.1,144.2 L444.8,142.3 L445.6,140.9 L446.3,138.4 L447.0,139.8 L447.8,140.4 L448.5,141.0 L449.3,140.7 L450.0,142.1 L450.7,140.5 L451.5,138.5 L452.2,138.1 L453.0,136.5 L453.7,134.7 L454.4,133.8 L455.1,133.1 L455.9,134.5 L456.6,133.9 L457.3,132.9 L458.0,133.7 L458.8,134.5 L459.5,135.8 L460.3,135.8 L461.0,136.6 L461.9,140.0 L462.9,143.9 L463.6,142.3 L464.4,140.9 L465.1,139.1 L465.9,139.1 L466.6,137.5 L467.5,138.0 L468.4,139.0 L469.3,138.7 L470.2,140.3 L471.1,141.8 L472.1,143.9 L473.0,132.9 L474.0,130.1 L475.0,128.7 L475.8,125.2 L476.7,122.7 L477.5,120.4 L478.3,119.4 L479.2,116.8 L480.0,115.3 L480.9,114.5 L481.7,114.3 L482.5,112.9 L483.4,112.8 L484.2,111.0 L485.1,111.2 L485.9,110.3 L486.8,107.0 L487.6,103.6 L488.4,107.8 L489.2,106.1 L490.1,103.7 L490.9,101.9 L491.8,101.6 L492.6,101.1 L493.4,99.5 L494.3,99.4 L495.1,96.6 L496.0,93.8 L496.8,91.0 L497.6,91.1 L498.5,92.1 L499.3,93.1 L500.1,93.6 L500.9,96.1 L501.8,97.8 L502.6,98.6 L503.5,102.8 L504.3,107.8 L505.1,107.5 L506.0,105.8 L506.8,106.1 L507.6,103.3 L508.5,102.3 L509.3,100.3 L510.2,101.3 L511.0,100.0 L511.9,101.4 L512.7,101.1 L513.5,101.7 L514.4,100.3 L515.2,100.9 L516.0,100.3 L516.9,99.5 L517.7,97.1 L518.5,96.3 L519.4,94.4 L520.2,96.3 L521.1,97.4 L521.9,98.6 L522.7,99.3 L523.6,99.4 L524.4,98.6 L525.2,100.1 L526.1,99.9 L526.9,100.3 L527.7,100.5 L528.6,101.5 L529.4,102.8 L530.2,98.4 L531.1,95.2 L531.9,92.0 L532.8,89.0 L533.6,85.2 L534.4,83.7 L535.3,84.4 L536.1,83.5 L537.0,84.8 L537.8,84.9 L538.7,86.0 L539.5,82.7 L540.3,85.2 L541.2,87.0 L542.0,90.2 L542.8,93.7 L543.7,95.4 L544.5,99.4 L545.4,94.5 L546.2,87.7 L547.0,87.9 L547.9,87.1 L548.7,86.0 L549.5,86.0 L550.4,88.0 L551.2,89.2 L552.1,89.4 L552.9,86.1 L553.8,84.9 L554.6,81.8 L555.4,82.2 L556.3,81.6 L557.1,81.0 L557.9,82.5 L558.8,83.1 L559.6,84.3 L560.4,83.8 L561.3,82.5 L562.1,80.2 L562.9,82.2 L563.8,85.3 L564.6,86.9 L565.4,89.0 L566.3,90.7 L567.1,93.6 L567.9,89.6 L568.8,85.6 L569.6,82.7 L570.5,82.4 L571.3,81.4 L572.2,79.3 L573.1,79.7 L574.1,81.8 L575.0,82.7 L575.8,83.3 L576.7,83.6 L577.5,85.2 L578.3,83.1 L579.2,81.4 L580.0,80.2 L580.9,78.7 L581.7,75.3 L582.6,74.3 L583.4,74.5 L584.3,75.8 L585.1,76.8 L585.9,73.3 L586.8,72.1 L587.6,69.3 L588.4,70.3 L589.3,71.6 L590.1,71.8 L590.9,74.5 L591.8,78.0 L592.6,81.8 L593.4,75.8 L594.3,69.1 L595.1,63.4 L595.9,64.1 L596.8,64.0 L597.6,65.1 L598.5,64.6 L599.3,64.0 L600.2,62.6 L601.0,64.6 L601.9,66.3 L602.7,66.8 L603.5,64.6 L604.4,62.2 L605.2,60.0 L606.0,63.0 L606.9,65.1 L607.7,66.8 L608.5,68.9 L609.4,70.4 L610.2,72.6 L611.0,73.0 L611.9,73.5 L612.7,75.1 L613.5,77.1 L614.4,77.1 L615.2,79.3 L616.0,80.6 L616.9,81.0 L617.8,74.4 L618.6,67.6 L619.4,70.8 L620.3,72.6 L621.1,74.3 L621.9,76.3 L622.8,75.8 L623.6,77.6 L624.4,79.6 L625.3,81.7 L626.1,83.5 L627.0,89.0 L627.8,95.2 L628.6,101.9 L629.5,108.6 L630.3,117.8 L631.1,113.8 L632.0,110.3 L632.9,115.4 L633.7,120.4 L634.5,124.8 L635.3,131.2 L636.1,126.9 L637.0,122.8 L637.8,118.7 L638.7,115.2 L639.5,112.4 L640.4,109.5 L641.2,109.2 L642.1,108.2 L642.9,107.0 L643.7,109.2 L644.6,111.8 L645.4,113.7 L646.2,119.0 L647.1,124.2 L647.9,130.4 L648.8,126.1 L649.6,123.7 L650.4,123.8 L651.3,125.0 L652.1,125.4 L652.9,125.0 L653.8,123.8 L654.6,122.0 L655.4,125.4 L656.3,129.7 L657.1,132.1 L658.0,134.5 L658.8,137.8 L659.6,139.4 L660.5,142.1 L661.3,139.3 L662.2,136.4 L663.0,132.1 L663.8,130.9 L664.6,129.7 L665.5,129.8 L666.3,128.7 L667.1,127.4 L668.0,125.6 L668.8,124.5 L669.5,127.5 L670.1,132.4 L671.0,127.1 L672.0,122.2 L672.9,126.2 L673.8,130.5 L674.5,133.5 L675.2,137.7 L675.9,140.3 L676.6,143.4 L677.5,145.1 L678.4,146.7 L679.3,147.1 L680.2,150.3 L681.2,152.6 L682.1,151.7 L683.0,150.8 L683.9,160.0 L684.6,160.9 L685.4,161.0 L686.1,161.4 L686.9,161.7 L687.6,161.8 L688.5,171.8 L689.5,182.1 L690.4,190.4 L691.3,183.0 L692.2,175.3 L693.1,167.3 L694.0,173.7 L695.0,178.4 L695.9,180.8 L696.8,182.1 L697.5,183.7 L698.2,184.5 L698.9,185.5 L699.6,185.8 L700.5,180.8 L701.5,175.0 L702.4,170.1 L703.3,177.0 L704.2,185.2 L705.1,192.2 L706.0,186.0 L707.0,178.4 L707.9,165.6 L708.8,152.6 L709.7,149.6 L710.6,148.0 L711.5,152.7 L712.5,156.0 L713.4,160.0 L714.1,153.5 L714.8,146.2 L715.5,140.7 L716.2,134.2 L717.1,135.3 L718.0,135.2 L718.9,136.0 L719.6,133.4 L720.3,131.7 L721.0,128.1 L721.7,126.8 L722.6,127.7 L723.6,129.6 L724.5,129.6 L725.4,128.4 L726.3,126.3 L727.2,125.0 L728.1,126.6 L729.1,127.7 L730.0,128.7 L730.8,130.3 L731.6,120.5 L732.5,111.9 L733.4,105.9 L734.2,101.0 L735.0,103.4 L735.9,103.9 L736.7,106.0 L737.5,104.9 L738.4,106.3 L739.2,105.4 L740.0,105.2 L740.9,96.1 L741.7,87.6 L742.6,105.2 L743.4,104.7 L744.3,104.5 L745.1,103.5 L745.9,105.1 L746.8,108.3 L747.6,110.2 L748.4,112.3 L749.3,114.2 L750.1,115.2 L751.0,120.6 L751.8,127.0 L752.6,123.0 L753.5,118.6 L754.3,122.7 L755.1,127.8 L756.0,119.1 L756.8,110.2 L757.6,108.4 L758.5,108.6 L759.3,106.9 L760.1,105.1 L761.0,101.5 L761.8,99.3 L762.6,100.1 L763.5,103.0 L764.3,103.5 L765.1,98.9 L766.0,93.5 L766.9,93.3 L767.7,90.9 L768.5,91.7 L769.4,90.1 L770.2,92.0 L771.1,93.1 L771.9,95.1 L772.7,95.5 L773.6,96.8 L774.4,96.8 L775.2,99.6 L776.1,100.6 L776.9,103.5 L777.7,102.4 L778.6,100.0 L779.4,99.3 L780.2,102.2 L781.1,103.1 L781.9,105.2 L782.7,108.8 L783.6,111.3 L784.4,113.6 L785.3,117.1 L786.1,119.8 L787.0,123.6 L787.8,122.8 L788.6,121.2 L789.5,120.4 L790.3,120.3 L791.1,121.6 L792.0,121.7 L792.8,122.8 L793.6,120.2 L794.5,116.1 L795.3,113.6 L796.1,116.3 L797.0,118.5 L797.8,120.3 L798.7,123.2 L799.5,126.2 L800.4,130.3 L801.2,127.6 L802.0,125.3 L802.9,122.0 L803.7,120.3 L804.5,114.6 L805.4,109.3 L806.2,105.2 L807.0,107.1 L807.9,109.3 L808.7,110.2 L809.5,110.8 L810.4,111.5 L811.2,113.6 L812.1,116.2 L812.9,118.7 L813.8,120.3 L814.6,122.9 L815.5,123.9 L816.3,125.3 L817.1,128.3 L818.0,132.6 L818.8,135.3 L819.6,135.7 L820.5,138.0 L821.3,138.7 L822.1,137.3 L823.0,137.4 L823.8,137.0 L824.6,136.2 L825.5,135.1 L826.3,134.5 L827.1,136.9 L828.0,140.1 L828.8,143.7 L829.5,143.8 L830.2,142.5 L830.9,142.0 L831.7,143.3 L832.6,143.6 L833.4,145.3 L834.2,147.6 L835.1,148.8 L835.9,151.2 L836.8,152.9 L837.6,152.2 L838.5,150.9 L839.3,147.6 L840.1,147.0 L840.9,147.0 L841.8,146.6 L842.6,145.3 L843.4,146.1 L844.3,147.3 L845.1,148.7 L845.9,148.3 L846.8,148.4 L847.6,147.0 L848.5,149.0 L849.3,152.2 L850.2,153.7 L851.0,151.4 L851.9,147.4 L852.7,145.3 L853.5,146.4 L854.4,144.9 L855.2,146.2 L856.0,139.2 L856.9,133.6 L857.7,132.0 L858.6,128.8 L859.4,127.7 L860.2,124.4 L861.1,120.8 L861.9,118.5 L862.7,120.1 L863.6,122.6 L864.4,123.6 L865.2,122.4 L866.1,118.7 L866.9,117.7 L867.7,109.3 L868.6,109.6 L869.4,112.2 L870.3,112.7 L871.1,110.7 L872.0,110.0 L872.8,109.3 L873.6,105.5 L874.5,102.3 L875.3,100.1 L876.1,102.9 L877.0,107.6 L877.8,108.4 L878.7,109.2 L879.5,109.3 L880.3,111.1 L881.2,112.8 L882.0,113.5 L882.8,114.7 L883.7,114.9 L884.5,116.0 L885.3,114.0 L886.2,112.5 L887.0,109.3 L887.8,111.5 L888.7,112.7 L889.5,115.2 L890.3,114.9 L891.2,117.2 L892.0,116.9 L892.8,117.6 L893.7,117.7 L894.5,118.5 L895.4,117.9 L896.2,117.0 L897.1,116.0 L897.9,115.2 L898.8,113.5 L899.6,113.5 L900.4,111.0 L901.3,108.9 L902.1,106.8 L902.9,107.0 L903.8,109.2 L904.6,109.3 L905.4,112.2 L906.3,115.8 L907.1,118.5 L907.9,120.1 L908.8,121.3 L909.6,121.9 L910.4,119.0 L911.3,115.7 L912.1,111.8 L912.9,111.0 L913.8,112.2 L914.6,111.0 L915.0,111.9 L915.8,113.7 L916.7,117.8 L917.5,119.5 L918.3,121.0 L919.2,121.9 L920.0,122.0 L920.8,121.4 L921.7,121.7 L922.5,122.8 L923.4,130.4 L924.2,127.7 L925.0,123.7 L925.9,123.1 L926.7,122.3 L927.6,122.0 L928.4,122.1 L929.3,119.4 L930.1,119.5 L930.9,121.0 L931.8,122.2 L932.6,123.7 L933.4,122.4 L934.3,122.4 L935.1,122.0 L935.9,121.0 L936.8,120.0 L937.6,117.8 L938.4,118.5 L939.3,121.2 L940.1,122.8 L940.9,123.1 L941.8,125.7 L942.6,126.2 L943.5,126.2 L944.3,126.9 L945.2,128.7 L946.0,130.6 L946.8,132.9 L947.6,130.3 L948.5,126.4 L949.3,123.7 L950.2,121.0 L951.0,120.4 L951.9,117.8 L952.7,117.6 L953.6,116.8 L954.4,115.3 L955.2,115.7 L956.1,116.8 L956.9,117.8 L957.7,115.9 L958.6,115.1 L959.4,113.6 L960.2,109.1 L961.1,105.2 L961.9,102.4 L962.7,100.2 L963.6,102.2 L964.4,103.9 L965.3,104.4 L966.1,102.3 L967.0,99.1 L967.8,97.7 L968.6,95.5 L969.5,92.6 L970.3,90.2 L971.1,92.0 L972.0,92.3 L972.8,92.7 L973.6,91.1 L974.5,88.6 L975.3,86.0 L976.1,86.9 L977.0,88.5 L977.8,88.5 L978.6,86.6 L979.5,83.0 L980.3,80.9 L981.1,80.2 L982.0,80.6 L982.8,80.9 L983.6,76.3 L984.5,71.7 L985.4,74.7 L986.2,79.3 L987.0,79.8 L987.9,81.1 L988.7,81.8 L989.5,83.7 L990.4,88.0 L991.2,90.2 L992.0,92.2 L992.9,93.2 L993.7,95.2 L994.5,95.4 L995.4,96.0 L996.2,96.9 L997.1,94.6 L997.9,93.5 L998.8,91.0 L999.6,96.0 L1000.4,101.0 L1000.8,92.0 L1001.4,102.1 L1002.0,112.1 L1002.7,112.5 L1003.5,115.1 L1004.2,115.4 L1005.0,115.6 L1005.9,116.2 L1006.7,117.1 L1007.5,112.0 L1008.4,109.7 L1009.2,104.5 L1010.0,104.8 L1010.9,105.9 L1011.7,105.4 L1012.5,108.5 L1013.4,110.8 L1014.2,112.1 L1015.1,115.0 L1015.9,117.4 L1016.8,118.8 L1017.6,120.2 L1018.5,120.5 L1019.3,120.5 L1020.1,120.0 L1021.0,121.1 L1021.8,121.3 L1022.6,122.0 L1023.5,123.4 L1024.3,123.0 L1025.2,125.2 L1026.0,126.3 L1026.8,124.2 L1027.7,121.8 L1028.5,118.8 L1029.3,115.2 L1030.2,112.1 L1031.0,112.4 L1031.9,111.3 L1032.7,110.4 L1033.5,108.0 L1034.4,105.9 L1035.2,103.7 L1036.0,105.5 L1036.9,105.4 L1037.7,106.2 L1038.5,103.0 L1039.4,100.5 L1040.2,98.7 L1041.0,99.3 L1041.9,99.4 L1042.7,99.5 L1043.6,97.8 L1044.4,94.5 L1045.2,96.8 L1046.1,100.4 L1046.5,89.3 L1047.5,81.3 L1048.3,79.8 L1049.2,79.0 L1050.0,77.2 L1050.9,77.3 L1051.7,78.5 L1052.6,80.3 L1053.4,81.9 L1054.3,82.8 L1055.1,84.8 L1055.9,81.5 L1056.8,79.3 L1057.6,77.2 L1058.6,68.2 L1059.6,72.0 L1060.6,75.2 L1061.3,65.7 L1062.1,56.1 L1063.1,54.3 L1064.1,54.1 L1065.1,50.2 L1066.1,48.1 L1067.1,57.1 L1067.8,56.3 L1068.6,54.1 L1069.4,54.9 L1070.2,55.1 L1071.0,51.2 L1071.7,48.6 L1072.5,52.6 L1073.2,55.1 L1074.0,57.2 L1074.7,61.2 L1075.5,57.9 L1076.2,55.1 L1077.2,53.3 L1078.2,50.1 L1079.0,48.3 L1079.7,45.6 L1080.5,46.9 L1081.2,49.1 L1082.0,47.4 L1082.7,44.1 L1083.5,43.5 L1084.2,42.6 L1085.0,44.8 L1085.7,45.6" fill="none" stroke="#ffffff" stroke-width="2.5" stroke-linejoin="miter" stroke-miterlimit="2" stroke-linecap="round"/>
<path d="M1,39 L44.2,39 L48.2,46 L44.2,53 L1,53Z" fill="#ffffff"/>
<text x="3" y="50.2" font-size="11" fill="#1a1a1a" textLength="39.2" lengthAdjust="spacingAndGlyphs">138.251T</text>
<path d="M1161,140.57653202240544 L1166,135.07653202240544 L1199,135.07653202240544 L1199,146.07653202240544 L1166,146.07653202240544Z" fill="#f5a473"/>
<text x="1166" y="144.6" font-size="11" fill="#1a1a1a" textLength="31" lengthAdjust="spacingAndGlyphs">0.108M</text>
<text x="155" y="23" font-size="14" fill="#e6e6e6" textLength="63" lengthAdjust="spacingAndGlyphs">Last Price</text>
<rect x="60" y="29" width="9.5" height="9" fill="#ffffff"/>
<rect x="60" y="44.3" width="9.5" height="9.2" fill="#f5a473"/>
<text x="72.8" y="38.7" font-size="14" fill="#e6e6e6" textLength="139.5" lengthAdjust="spacingAndGlyphs">Global Liquidity Index</text>
<text x="222.5" y="38.7" font-size="14" fill="#e6e6e6" textLength="28.5" lengthAdjust="spacingAndGlyphs">(L1)</text>
<text x="256.5" y="38.7" font-size="14" fill="#e6e6e6" textLength="57" lengthAdjust="spacingAndGlyphs">138.251T</text>
<text x="72.8" y="53.7" font-size="14" fill="#e6e6e6" textLength="128.8" lengthAdjust="spacingAndGlyphs">XBT-USD Cross Rate</text>
<text x="210.5" y="53.7" font-size="14" fill="#e6e6e6" textLength="29.5" lengthAdjust="spacingAndGlyphs">(R1)</text>
<text x="255.2" y="53.7" font-size="14" fill="#e6e6e6" textLength="44.3" lengthAdjust="spacingAndGlyphs">0.108M</text>
<text x="5" y="577.5" font-size="20" font-weight="bold" fill="#ffffff" textLength="294" lengthAdjust="spacingAndGlyphs">Source: Jamie Coutts, CMT</text>
<text x="2" y="593.7" font-size="10" fill="#e6e6e6" textLength="384" lengthAdjust="spacingAndGlyphs" xml:space="preserve">.GLI U Index (Global Liquidity Index) GLI &amp; BTC Daily  Daily 01JAN2018-12JUN2025</text>
<text x="648.3" y="593.7" font-size="10" fill="#e6e6e6" textLength="185.2" lengthAdjust="spacingAndGlyphs">Copyright© 2025 Bloomberg Finance L.P.</text>
<text x="1097.2" y="593.7" font-size="10" fill="#e6e6e6" textLength="101" lengthAdjust="spacingAndGlyphs">12-Jun-2025 17:07:06</text>
</svg>
</body></html>
